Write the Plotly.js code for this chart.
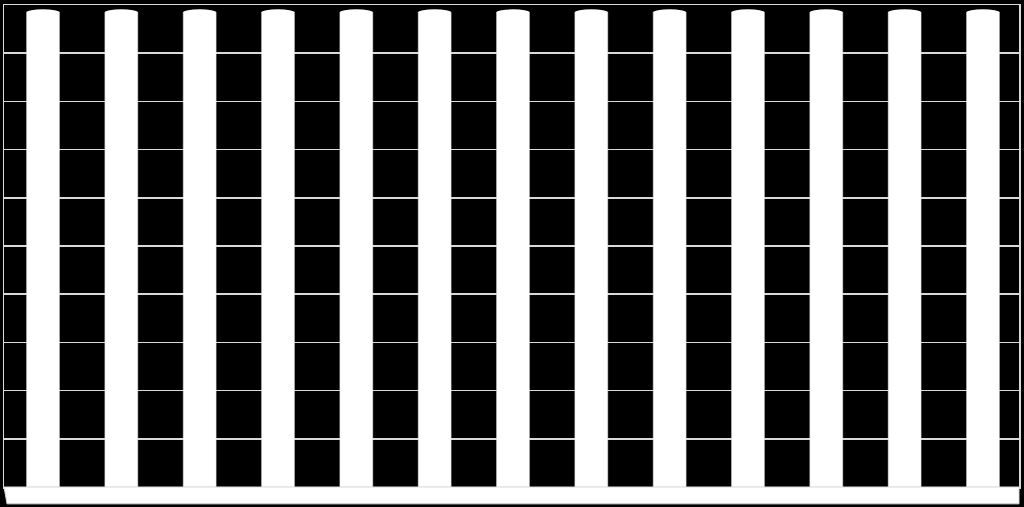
<!DOCTYPE html>
<html lang="en">
<head>
    <meta charset="UTF-8">
    <title>Bars</title>
    <script src="https://cdn.plot.ly/plotly-3.0.1.min.js"></script>
    <style>
        body { margin: 0; background: #000; }
    </style>
</head>
<body>
<div id="plot" style="width:1024px;height:507px;"></div>
<script>
    const categories = ['1', '2', '3', '4', '5', '6', '7', '8', '9', '10', '11', '12', '13']
    const values = [98.5, 98.5, 98.5, 98.5, 98.5, 98.5, 98.5, 98.5, 98.5, 98.5, 98.5, 98.5, 98.5]
    const barWidth = 0.42

    // rounded tops of the cylinders
    const caps = categories.map((c, i) => ({
        type: 'circle', xref: 'x', yref: 'y',
        x0: i - barWidth / 2, x1: i + barWidth / 2,
        y0: values[i] - 0.6, y1: values[i] + 0.6,
        fillcolor: '#ffffff', line: {width: 0}, layer: 'above'
    }))

    const floor = {
        type: 'path', xref: 'paper', yref: 'paper',
        path: 'M 0 0 L 1 0 L 1 -0.035 L 0.003 -0.035 Z',
        fillcolor: '#ffffff', line: {color: '#d9d9d9', width: 1}
    }

    const data = [{
        x: categories.map((c, i) => i),
        y: values,
        type: 'bar',
        width: barWidth,
        marker: {color: '#ffffff', line: {color: '#d9d9d9', width: 0.5}},
        hoverinfo: 'none'
    }]

    const layout = {
        width: 1024,
        height: 507,
        margin: {l: 4, r: 5, t: 5, b: 20},
        paper_bgcolor: '#000000',
        plot_bgcolor: '#000000',
        showlegend: false,
        xaxis: {
            range: [-0.498, 12.46],
            showticklabels: false,
            showgrid: false,
            zeroline: false,
            showline: true, mirror: true,
            linecolor: '#d9d9d9', linewidth: 1.5,
            ticks: ''
        },
        yaxis: {
            range: [0, 100],
            dtick: 10,
            showticklabels: false,
            showgrid: true,
            gridcolor: '#d9d9d9', gridwidth: 1.5,
            zeroline: false,
            showline: true, mirror: true,
            linecolor: '#d9d9d9', linewidth: 1.5,
            ticks: ''
        },
        shapes: [floor].concat(caps)
    }

    Plotly.newPlot('plot', data, layout, {displayModeBar: false, staticPlot: true})
</script>
</body>
</html>
